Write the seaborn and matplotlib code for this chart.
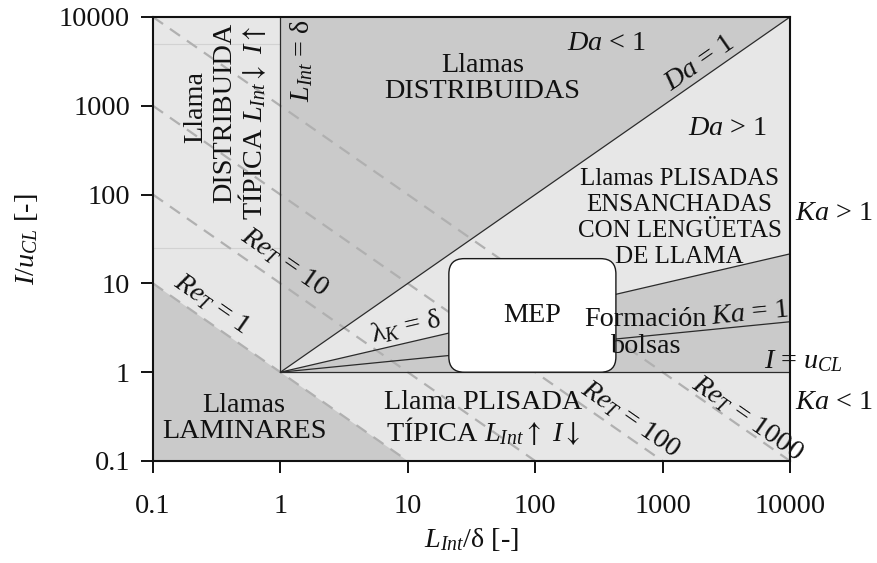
import numpy as np
import pandas as pd
import matplotlib
matplotlib.use("Agg")
import matplotlib.pyplot as plt
from matplotlib.patches import FancyBboxPatch
import seaborn as sns

# Decade ticks shared by both axes
tick_values = [0.1, 1, 10, 100, 1000, 10000]
tick_labels = ["0.1", "1", "10", "100", "1000", "10000"]

# Turbulent Reynolds number iso-lines: I/u_CL = Re_T / (L_Int/δ)
re_t_values = [1, 10, 100, 1000]

# Regime boundaries leaving the point (1, 1); value of I/u_CL at L_Int/δ = 10000
origin = (1.0, 1.0)
da_one_end = 10000.0     # Da = 1
lambda_k_end = 21.5      # λ_K = δ
ka_one_end = 3.7         # Ka = 1
unit_level = 1.0         # I = u_CL
x_max = 10000.0
y_max = 10000.0
x_min = 0.1
y_min = 0.1

# MEP operating window
mep_x = [21.0, 430.0]
mep_y = [1.0, 19.0]

# faint horizontal guides in the distributed-flame column
guide_levels = [5000.0, 25.0]

LIGHT = "#e7e7e7"
DARK = "#cacaca"
FS = 20.3

sns.set_theme(style="ticks")
plt.rcParams["font.family"] = ["Liberation Serif", "DejaVu Serif"]
plt.rcParams["mathtext.fontset"] = "custom"
plt.rcParams["mathtext.rm"] = "Liberation Serif"
plt.rcParams["mathtext.it"] = "Liberation Serif:italic"
plt.rcParams["mathtext.bf"] = "Liberation Serif:bold"
plt.rcParams["mathtext.sf"] = "STIXGeneral"
plt.rcParams["axes.unicode_minus"] = False

fig = plt.figure(figsize=(8.77, 5.63), dpi=100)
ax = fig.add_axes([153 / 877, 1 - 461 / 563, 637 / 877, 444 / 563])
ax.set_xscale("log")
ax.set_yscale("log")
ax.set_xlim(x_min, x_max)
ax.set_ylim(y_min, y_max)
ax.set_facecolor(LIGHT)

# shaded regimes
ax.fill([x_min, x_min, re_t_values[0] / y_min], [y_min, re_t_values[0] / x_min, y_min],
        color=DARK, lw=0, zorder=1)                                   # laminar
ax.fill([origin[0], origin[0], x_max], [origin[1], y_max, da_one_end],
        color=DARK, lw=0, zorder=1)                                   # distributed
ax.fill([origin[0], x_max, x_max], [origin[1], lambda_k_end, unit_level],
        color=DARK, lw=0, zorder=1)                                   # pockets

# faint guides
for g in guide_levels:
    ax.plot([x_min, origin[0]], [g, g], color="#d2d2d2", lw=0.8, zorder=1.5)

# Re_T iso-lines
re_rows = []
for re in re_t_values:
    re_rows.append({"re": re, "x": x_min, "y": re / x_min})
    re_rows.append({"re": re, "x": re / y_min, "y": y_min})
re_df = pd.DataFrame(re_rows)
sns.lineplot(data=re_df, x="x", y="y", units="re", estimator=None, sort=False,
             color="#b0b0b0", lw=1.6, linestyle=(0, (5.5, 3.8)), ax=ax, zorder=2)

# regime boundaries
seg_rows = []
ends = {"Lint": (origin[0], y_max), "Da": (x_max, da_one_end), "lk": (x_max, lambda_k_end),
        "Ka": (x_max, ka_one_end), "I": (x_max, unit_level)}
for name, (xe, ye) in ends.items():
    seg_rows.append({"seg": name, "x": origin[0], "y": origin[1]})
    seg_rows.append({"seg": name, "x": xe, "y": ye})
seg_df = pd.DataFrame(seg_rows)
sns.lineplot(data=seg_df, x="x", y="y", units="seg", estimator=None, sort=False,
             color="#2b2b2b", lw=0.9, ax=ax, zorder=3)
ax.set_xlabel("")
ax.set_ylabel("")

# MEP box (rounded corners drawn in axes fraction)
to_axes = ax.transData + ax.transAxes.inverted()
(ax0, ay0) = to_axes.transform((mep_x[0], mep_y[0]))
(ax1, ay1) = to_axes.transform((mep_x[1], mep_y[1]))
aspect = 637 / 444
box = FancyBboxPatch((ax0, ay0), ax1 - ax0, ay1 - ay0,
                     boxstyle="round,pad=0,rounding_size=0.024",
                     mutation_aspect=aspect, transform=ax.transAxes,
                     facecolor="white", edgecolor="#1a1a1a", lw=1.0, zorder=4)
ax.add_patch(box)


def screen_angle(p0, p1):
    a = ax.transData.transform(p0)
    b = ax.transData.transform(p1)
    return np.degrees(np.arctan2(b[1] - a[1], b[0] - a[0]))


def label(x, y, s, rot=0, ha="center", va="center", size=FS, **kw):
    ax.text(x, y, s, fontsize=size, rotation=rot, ha=ha, va=va, rotation_mode="anchor",
            color="#111111", zorder=6, **kw)


re_angle = screen_angle((1, 1), (10, 0.1))
da_angle = screen_angle(origin, (x_max, da_one_end))
lk_angle = screen_angle(origin, (x_max, lambda_k_end))
ka_angle = screen_angle(origin, (x_max, ka_one_end))

UP = r"$\mathsf{\uparrow}$"
DOWN = r"$\mathsf{\downarrow}$"

label(38.5, 2050, "Llamas\nDISTRIBUIDAS", linespacing=1.05)
label(362, 5070, "$Da$ < 1")
label(1950, 3030, "$Da$ = 1", rot=da_angle)
label(3230, 560, "$Da$ > 1")
label(1360, 55, "Llamas PLISADAS\nENSANCHADAS\nCON LENGÜETAS\nDE LLAMA",
      linespacing=1.24, size=18)
label(22300, 62, "$Ka$ > 1", clip_on=False)
label(4800, 4.5, "$Ka$ = 1", rot=ka_angle)
label(733, 2.75, "Formación\nbolsas", linespacing=1.12)
label(6300, 1.11, "$I$ = $u_{CL}$", ha="left", va="baseline", clip_on=False)
label(22300, 0.46, "$Ka$ < 1", clip_on=False)
label(4630, 0.30, "$Re_T$ = 1000", rot=re_angle, clip_on=False)
label(559, 0.296, "$Re_T$ = 100", rot=re_angle, clip_on=False)
label(39.2, 0.30, "Llama PLISADA\nTÍPICA $L_{Int}$" + UP + " $I$" + DOWN, linespacing=1.0)
label(0.52, 0.30, "Llamas\nLAMINARES", linespacing=1.02)
label(0.287, 5.8, "$Re_T$ = 1", rot=re_angle)
label(1.09, 17.4, "$Re_T$ = 10", rot=re_angle)
label(9.6, 3.2, "λ$_K$ = δ", rot=lk_angle)
label(np.sqrt(mep_x[0] * mep_x[1]), np.sqrt(mep_y[0] * mep_y[1]), "MEP")
label(1.46, 3200, "$L_{Int}$ = δ", rot=90)

# vertical column text, one line per call (baseline anchored)
label(0.244, 964, "Llama", rot=90, va="baseline")
label(0.412, 826, "DISTRIBUIDA", rot=90, va="baseline")
label(0.722, 640, "TÍPICA $L_{Int}$" + DOWN + " $I$" + UP, rot=90, va="baseline")

# axes styling
ax.set_xticks(tick_values)
ax.set_xticklabels(tick_labels)
ax.set_yticks(tick_values)
ax.set_yticklabels(tick_labels)
ax.minorticks_off()
ax.tick_params(axis="both", direction="out", length=8.5, width=1.4, colors="#111111",
               labelsize=FS, top=False, right=False)
ax.tick_params(axis="x", pad=15)
ax.tick_params(axis="y", pad=8)
for sp in ax.spines.values():
    sp.set_linewidth(1.5)
    sp.set_color("#111111")
    sp.set_zorder(7)
ax.set_xlabel("$L_{Int}$/δ [-]", fontsize=FS, labelpad=5, color="#111111")
ax.set_ylabel("$I/u_{CL}$ [-]", fontsize=FS, labelpad=14, color="#111111")

fig.savefig("out.png", dpi=100)
